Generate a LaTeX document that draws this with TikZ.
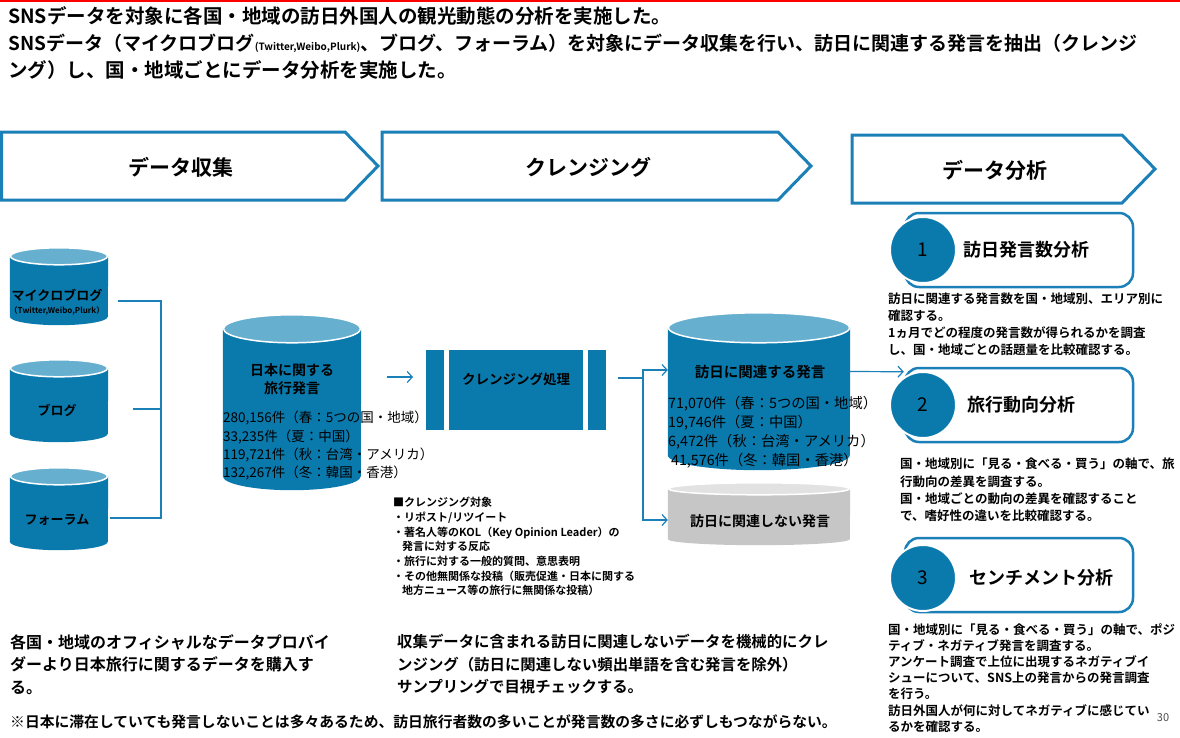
\documentclass[tikz,border=0pt]{standalone}
\usepackage{fontspec}
\setmainfont{Noto Sans CJK JP}[BoldFont={Noto Sans CJK JP Bold}]
\usetikzlibrary{arrows.meta,positioning}
\definecolor{snsblue}{HTML}{0A7AAD}
\definecolor{snslight}{HTML}{66AFCF}
\definecolor{snsline}{HTML}{1B7FB8}
\definecolor{snsgrey}{HTML}{C6C6C6}
\definecolor{snsgreylt}{HTML}{E2E2E2}
\newcommand\fsz[2]{\fontsize{#1}{#2}\selectfont}
% name, x, y, width, height, cap radius, body colour, top colour
\newcommand\dbcyl[8]{%
  \node[inner sep=0pt, minimum width=#4, minimum height=#5] (#1) at (#2,#3) {};
  \fill[#7] ([yshift=-#6pt]#1.north west) -- ([yshift=#6pt]#1.south west)
    arc[start angle=180, end angle=360, x radius=#4pt/2, y radius=#6pt]
    -- ([yshift=-#6pt]#1.north east) -- cycle;
  \filldraw[fill=#8, draw=white, line width=1.5pt] ([yshift=-#6pt]#1.north)
    ellipse [x radius=#4pt/2-0.5pt, y radius=#6pt];
}

\begin{document}
\begin{tikzpicture}[x=1pt,y=-1pt,
    link/.style={draw=snsline, line width=1.2pt},
    arrowlink/.style={link, -{Straight Barb[length=5pt,width=11pt]}},
    phase/.style={draw=snsline, line width=3pt, fill=white},
    phaselabel/.style={font=\bfseries\fsz{21}{25}},
    dbtext/.style={font=\bfseries\fsz{13}{18}, align=center},
    counts/.style={anchor=north west, align=left, inner sep=0pt},
    frame/.style={draw=snsline, line width=2.5pt, rounded corners=14pt, fill=white,
      minimum width=228, minimum height=74},
    badge/.style={circle, fill=snsblue, draw=white, line width=2pt, minimum size=66,
      font=\fsz{19}{19}},
    boxtitle/.style={anchor=west, font=\bfseries\fsz{18}{20}},
    note/.style={anchor=north west, align=left, inner sep=0pt, font=\bfseries\fsz{12.5}{17}},
    bar/.style={fill=snsblue, minimum height=80, inner sep=0pt}]
  \useasboundingbox (0,0) rectangle (1180,737);
  \draw[red, line width=2pt] (0,1) -- (1180,1);

  % heading
  \node[anchor=north west, align=left, inner sep=0pt, font=\bfseries\fsz{19.5}{27}] (head) at (8,6)
    {SNSデータを対象に各国・地域の訪日外国人の観光動態の分析を実施した。\\
     {\fsz{19}{27}SNSデータ（マイクロブログ{\fsz{10}{10}(Twitter,Weibo,Plurk)}、ブログ、フォーラム）を対象にデータ収集を行い、訪日に関連する発言を抽出（クレンジ}\\
     ング）し、国・地域ごとにデータ分析を実施した。};

  % phases
  \foreach \xa/\xb/\ya/\lbl/\nm in {1.5/345/132/データ収集/collect,
      382/778/132/クレンジング/cleansing, 852/1122/135/データ分析/analysis} {
    \draw[phase] (\xa,\ya) -- (\xb,\ya) -- (\xb+33,\ya+34) -- (\xb,\ya+68) -- (\xa,\ya+68) -- cycle;
    \node[phaselabel] (\nm) at ({(\xa+\xb)/2+8},\ya+35) {\lbl};
  }

  % sources
  \dbcyl{micro}{59}{286.5}{98}{77}{8.5}{snsblue}{snslight}
  \dbcyl{blog}{59}{401}{98}{82}{8.5}{snsblue}{snslight}
  \dbcyl{forum}{59}{509}{98}{82}{8.5}{snsblue}{snslight}
  \node[dbtext] (microtxt) at (57,295) {マイクロブログ};
  \node[font=\bfseries\fsz{8}{9}] (microsub) at (57,311) {（Twitter,Weibo,Plurk）};
  \node[dbtext] (blogtxt) at (57,410) {ブログ};
  \node[dbtext] (forumtxt) at (57,520) {フォーラム};

  \coordinate (join) at (161,377);
  \draw[link] ([shift={(10,14.5)}]micro.east) -| (join);
  \draw[link] ([shift={(25,8)}]blog.east) -| (join);
  \draw[link] ([shift={(2,9)}]forum.east) -| (join);

  % collected data
  \dbcyl{jptravel}{292}{402.5}{138}{175}{14}{snsblue}{snslight}
  \node[dbtext, font=\bfseries\fsz{14}{18}] (jptraveltxt) at (292,379) {日本に関する\\旅行発言};
  \node[counts, font=\fsz{13.5}{18.3}] (jpcounts) at (223,411)
    {280,156件（春：5つの国・地域）\\33,235件（夏：中国）\\119,721件（秋：台湾・アメリカ）\\132,267件（冬：韓国・香港）};
  \draw[arrowlink, shorten <=26pt, shorten >=13pt] (jptravel.east |- join) -- (join -| 426,0);

  % cleansing
  \node[bar, minimum width=18] (lbar) at (435,390) {};
  \node[bar, minimum width=134] (cleanse) at (516,390) {};
  \node[bar, minimum width=18] (rbar) at (597,390) {};
  \node[dbtext, font=\bfseries\fsz{13.5}{16}] (cleansetxt) at ([yshift=11pt]cleanse.center) {クレンジング処理};
  \node[note, font=\bfseries\fsz{11}{14.7}] (targets) at (393,497)
    {■クレンジング対象\\・リポスト/リツイート\\・著名人等のKOL（Key Opinion Leader）の\\
     \hspace{0.8em}発言に対する反応\\・旅行に対する一般的質問、意思表明\\
     ・その他無関係な投稿（販売促進・日本に関する\\\hspace{0.8em}地方ニュース等の旅行に無関係な投稿）};

  % split
  \coordinate (split) at (643,378);
  \dbcyl{visitrel}{759}{391.5}{182}{157}{15}{snsblue}{snslight}
  \dbcyl{visitnon}{759}{514}{182}{62}{6}{snsgrey}{snsgreylt}
  \node[dbtext, font=\bfseries\fsz{14.5}{16}] (visitreltxt) at (760,372) {訪日に関連する発言};
  \node[dbtext, font=\bfseries\fsz{14}{16}] (visitnontxt) at (760,521) {訪日に関連しない発言};
  \node[counts, font=\fsz{14.3}{19}] (relcounts) at (668,396)
    {71,070件（春：5つの国・地域）\\19,746件（夏：中国）\\6,472件（秋：台湾・アメリカ）\\\hspace{0.2em}41,576件（冬：韓国・香港）};
  \draw[link, shorten <=12pt] (rbar.east |- split) -- (split);
  \draw[arrowlink] (split) |- (visitrel.west |- 0,370);
  \draw[arrowlink] (split) |- ([yshift=-6pt]visitnon.west);

  % analysis items
  \node[frame] (frame1) at (1019,250) {};
  \node[frame] (frame2) at (1019,405) {};
  \node[frame] (frame3) at (1019,575) {};
  \node[badge] (no1) at (923,250) {1};
  \node[badge] (no2) at (923,405) {2};
  \node[badge] (no3) at (923,578) {3};
  \node[boxtitle] (title1) at (960,250) {訪日発言数分析};
  \node[boxtitle] (title2) at (964,405) {旅行動向分析};
  \node[boxtitle] (title3) at (966,578) {センチメント分析};
  \draw[arrowlink] ([yshift=20pt]visitrel.east) -- ([yshift=-5pt]frame2.north west);

  \node[note] (desc1) at (888,293)
    {訪日に関連する発言数を国・地域別、エリア別に\\確認する。\\
     1ヵ月でどの程度の発言数が得られるかを調査\\し、国・地域ごとの話題量を比較確認する。};
  \node[note, font=\bfseries\fsz{12.5}{17.3}] (desc2) at (900,458)
    {国・地域別に「見る・食べる・買う」の軸で、旅\\行動向の差異を調査する。\\
     国・地域ごとの動向の差異を確認すること\\で、嗜好性の違いを比較確認する。};
  \node[note, font=\bfseries\fsz{12.5}{16.2}] (desc3) at (888,623)
    {国・地域別に「見る・食べる・買う」の軸で、ポジ\\ティブ・ネガティブ発言を調査する。\\
     アンケート調査で上位に出現するネガティブイ\\シューについて、SNS上の発言からの発言調査\\
     を行う。\\訪日外国人が何に対してネガティブに感じてい\\るかを確認する。};
  \node[font=\fsz{11}{12}, text=black!70] (page) at (1163,718) {30};

  % bottom notes
  \node[note, font=\bfseries\fsz{16}{22.5}] (buy) at (10,634)
    {各国・地域のオフィシャルなデータプロバイ\\ダーより日本旅行に関するデータを購入す\\る。};
  \node[note, font=\bfseries\fsz{15.4}{22.5}] (mech) at (397,634)
    {収集データに含まれる訪日に関連しないデータを機械的にクレ\\ンジング（訪日に関連しない頻出単語を含む発言を除外）\\サンプリングで目視チェックする。};
  \node[anchor=west, inner sep=0pt, font=\bfseries\fsz{14.8}{16}] (foot) at (10,722)
    {※日本に滞在していても発言しないことは多々あるため、訪日旅行者数の多いことが発言数の多さに必ずしもつながらない。};
\end{tikzpicture}
\end{document}
